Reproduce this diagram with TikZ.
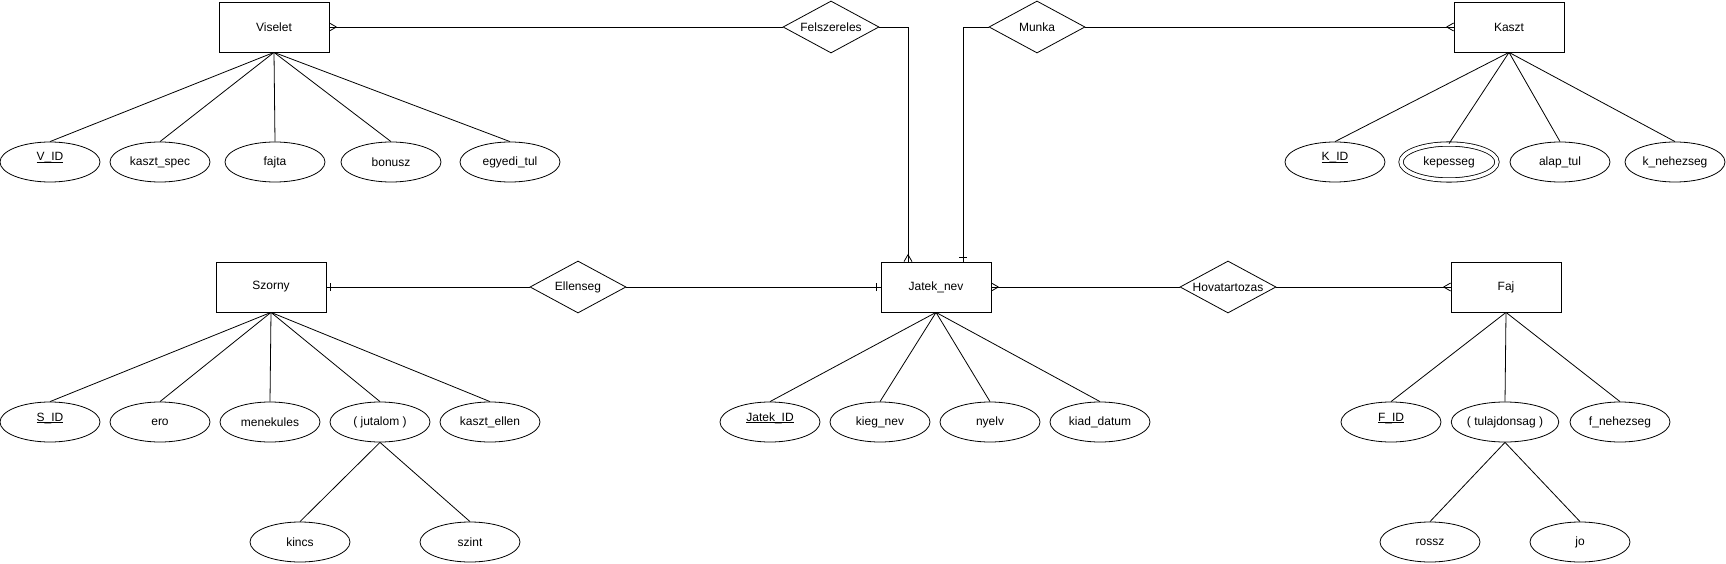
\documentclass[tikz,border=0pt]{standalone}
\usepackage{fontspec}
\setmainfont{Liberation Sans}
\usepackage{tikz}
\usetikzlibrary{shapes.geometric}
\usetikzlibrary{decorations.markings}
\newcommand{\keyattr}[1]{\underline{\smash{#1}}}

\begin{document}
\begin{tikzpicture}[x=1pt,y=-1pt,line width=0.8pt,
font=\fontsize{12}{14}\selectfont,
entity/.style={shape=rectangle,draw,minimum width=110pt,minimum height=50pt},
rel/.style={shape=diamond,draw,aspect=1.8,inner sep=0pt,minimum width=96pt,minimum height=52pt},
attr/.style={shape=ellipse,draw,inner sep=0pt,minimum width=100pt,minimum height=40pt},
multi/.style={attr,double,double distance=3.5pt,minimum width=96pt,minimum height=36pt},
crowend/.style={postaction={decorate,decoration={markings,
  mark=at position -7pt with {\draw (0,0) -- (7pt,4pt) (0,0) -- (7pt,-4pt);}}}},
crowstart/.style={postaction={decorate,decoration={markings,
  mark=at position 7pt with {\draw (0,0) -- (-7pt,4pt) (0,0) -- (-7pt,-4pt);}}}},
barend/.style={postaction={decorate,decoration={markings,
  mark=at position -4pt with {\draw (0,-4pt) -- (0,4pt);}}}},
barstart/.style={postaction={decorate,decoration={markings,
  mark=at position 4pt with {\draw (0,-4pt) -- (0,4pt);}}}}]
\useasboundingbox (0,0) rectangle (1726,564);

% entities and relations
\path
(274,27) node [entity](vis) {Viselet}
(831,27) node [rel](fel) {Felszereles}
(1037,27) node [rel](mun) {Munka}
(1509,27) node [entity](kas) {Kaszt}
(271,287) node [entity](szo) {Szorny}
(578,287) node [rel](ell) {Ellenseg}
(936,287) node [entity](jat) {Jatek\_nev}
(1228,287) node [rel](hov) {Hovatartozas}
(1506,287) node [entity](faj) {Faj};

% attributes
\path
(50,162) node [attr](vid) {\keyattr{V\_ID}}
(160,162) node [attr](ksp) {kaszt\_spec}
(275,162) node [attr](fjt) {fajta}
(391,162) node [attr](bon) {bonusz}
(510,162) node [attr](egy) {egyedi\_tul}
(1335,162) node [attr](kid) {\keyattr{K\_ID}}
(1449,162) node [multi](kep) {kepesseg}
(1560,162) node [attr](alt) {alap\_tul}
(1675,162) node [attr](kne) {k\_nehezseg}
(50,422) node [attr](sid) {\keyattr{S\_ID}}
(160,422) node [attr](ero) {ero}
(270,422) node [attr](men) {menekules}
(380,422) node [attr](jut) {( jutalom )}
(490,422) node [attr](kel) {kaszt\_ellen}
(770,422) node [attr](jid) {\keyattr{Jatek\_ID}}
(880,422) node [attr](kie) {kieg\_nev}
(990,422) node [attr](nye) {nyelv}
(1100,422) node [attr](kia) {kiad\_datum}
(1391,422) node [attr](fid) {\keyattr{F\_ID}}
(1505,422) node [attr](tul) {( tulajdonsag )}
(1620,422) node [attr](fne) {f\_nehezseg}
(300,542) node [attr](kin) {kincs}
(470,542) node [attr](szi) {szint}
(1430,542) node [attr](ros) {rossz}
(1580,542) node [attr](jo) {jo};

\coordinate (jt1) at ([xshift=-28pt]jat.north);
\coordinate (jt2) at ([xshift=27pt]jat.north);

% relationship lines
\draw [crowstart](vis.east) --(fel.west);
\draw [crowend](fel.east) -|(jt1);
\draw [barend](mun.west) -|(jt2);
\draw [crowend](mun.east) --(kas.west);
\draw [barstart](szo.east) --(ell.west);
\draw [barend](ell.east) --(jat.west);
\draw [crowstart](jat.east) --(hov.west);
\draw [crowend](hov.east) --(faj.west);

% attribute lines
\foreach \a in {vid,ksp,fjt,bon,egy} \draw (vis.south) --(\a.north);
\foreach \a in {kid,kep,alt,kne} \draw (kas.south) --(\a.north);
\foreach \a in {sid,ero,men,jut,kel} \draw (szo.south) --(\a.north);
\foreach \a in {jid,kie,nye,kia} \draw (jat.south) --(\a.north);
\foreach \a in {fid,tul,fne} \draw (faj.south) --(\a.north);
\draw (jut.south) --(kin.north);
\draw (jut.south) --(szi.north);
\draw (tul.south) --(ros.north);
\draw (tul.south) --(jo.north);

\end{tikzpicture}
\end{document}
